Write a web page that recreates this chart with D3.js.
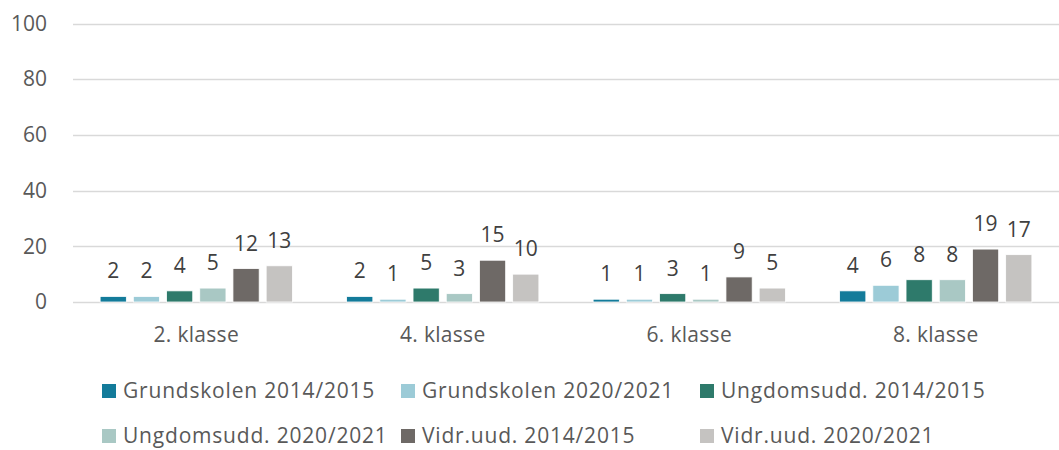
<!DOCTYPE html>
<html><head><meta charset="utf-8">
<script src="https://cdn.jsdelivr.net/npm/d3@7"></script>
<style>
html,body{margin:0;padding:0;background:#fff;}
svg{display:block;font-family:"Open Sans",sans-serif;}
</style></head>
<body>
<svg id="chart" width="1059" height="450"></svg>
<script>
const categories = ["2. klasse", "4. klasse", "6. klasse", "8. klasse"];
const seriesNames = ["Grundskolen 2014/2015", "Grundskolen 2020/2021", "Ungdomsudd. 2014/2015",
                     "Ungdomsudd. 2020/2021", "Vidr.uud. 2014/2015", "Vidr.uud. 2020/2021"];
const grund1415 = [2, 2, 1, 4];
const grund2021 = [2, 1, 1, 6];
const ungdom1415 = [4, 5, 3, 8];
const ungdom2021 = [5, 3, 1, 8];
const vidr1415 = [12, 15, 9, 19];
const vidr2021 = [13, 10, 5, 17];
const yTicks = [0, 20, 40, 60, 80, 100];
const colors = ["#137b9a", "#9ccbd7", "#2e7a6b", "#a9c8c4", "#6e6966", "#c5c3c1"];

const seriesValues = [grund1415, grund2021, ungdom1415, ungdom2021, vidr1415, vidr2021];
const svg = d3.select("#chart");
const mLeft = 73, mRight = 1059, mTop = 23.5, mBottom = 302;

const x = d3.scaleBand().domain(categories).range([mLeft, mRight]).paddingInner(0.22).paddingOuter(0.11);
const x1 = d3.scaleBand().domain(seriesNames).range([0, x.bandwidth()]).paddingInner(0.21);
const y = d3.scaleLinear().domain([0, 100]).range([mBottom, mTop]);

// gridlines
svg.append("g").selectAll("line").data(yTicks).join("line")
  .attr("x1", mLeft).attr("x2", mRight)
  .attr("y1", d => Math.round(y(d)) + 0.5).attr("y2", d => Math.round(y(d)) + 0.5)
  .attr("stroke", "#d9d9d9").attr("stroke-width", 1.3);

// y axis labels
const yAxis = d3.axisLeft(y).tickValues(yTicks).tickSize(0).tickPadding(0);
const gy = svg.append("g").attr("transform", "translate(47,0)").call(yAxis);
gy.select(".domain").remove();
gy.selectAll("text").attr("fill", "#595959").style("font-size", "21px").style("font-family", "Open Sans, sans-serif");

// x axis labels
const xAxis = d3.axisBottom(x).tickSize(0).tickPadding(0);
const gx = svg.append("g").attr("transform", "translate(0,327)").call(xAxis);
gx.select(".domain").remove();
gx.selectAll("text").attr("fill", "#595959").style("font-size", "21px")
  .style("letter-spacing", "0.3px").style("font-family", "Open Sans, sans-serif");

// bars
const groups = svg.append("g").selectAll("g").data(categories).join("g")
  .attr("transform", d => `translate(${x(d)},0)`);
groups.each(function(cat, ci) {
  const g = d3.select(this);
  seriesNames.forEach((s, si) => {
    const v = seriesValues[si][ci];
    g.append("rect")
      .attr("x", x1(s)).attr("width", x1.bandwidth())
      .attr("y", y(v)).attr("height", y(0) - y(v))
      .attr("fill", colors[si]).attr("stroke", "#fff").attr("stroke-width", 0.8);
    g.append("text")
      .attr("x", x1(s) + x1.bandwidth() / 2).attr("y", y(v) - 18)
      .attr("text-anchor", "middle").attr("fill", "#404040")
      .style("font-size", "21px").text(v);
  });
});

// legend
const legendPos = [[102, 391], [401, 391], [700, 391], [102, 436], [401, 436], [700, 436]];
const lg = svg.append("g").selectAll("g").data(seriesNames).join("g")
  .attr("transform", (d, i) => `translate(${legendPos[i][0]},${legendPos[i][1]})`);
lg.append("rect").attr("x", 0).attr("y", -7).attr("width", 14).attr("height", 14)
  .attr("fill", (d, i) => colors[i]);
lg.append("text").attr("x", 21).attr("y", 0).attr("dy", "0.35em")
  .attr("fill", "#595959").style("font-size", "21px").style("letter-spacing", "0.8px").text(d => d);
</script>
</body></html>
